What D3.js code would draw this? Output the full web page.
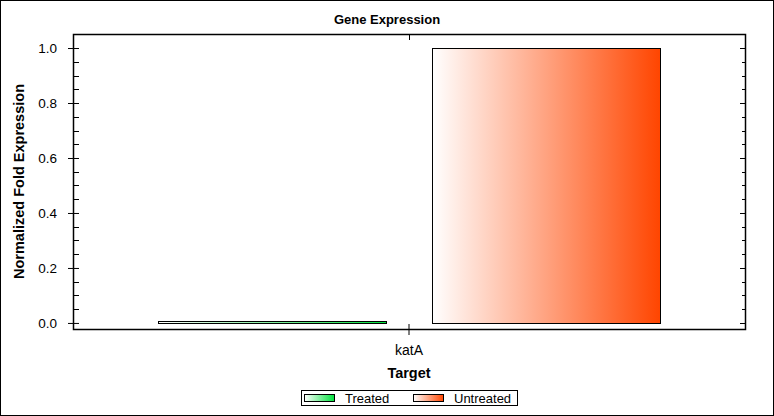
<!DOCTYPE html>
<html>
<head>
<meta charset="utf-8">
<script src="https://cdn.jsdelivr.net/npm/d3@7"></script>
<style>
  body { margin: 0; background: #fff; }
  text { font-family: "Liberation Sans", Arial, sans-serif; fill: #000; }
</style>
</head>
<body>
<div id="chart"></div>
<script>
// datos
var genes = ["katA"],
    series = ["Treated", "Untreated"],
    values = [[0.0075, 1.0]], // por gen: [Treated, Untreated]
    yTicks = [0.0, 0.2, 0.4, 0.6, 0.8, 1.0],
    colors = ["#00e03c", "#ff4500"];

var W = 774, H = 416,
    margin = {top: 34, right: 29, bottom: 87, left: 73},
    width = W - margin.left - margin.right,
    height = H - margin.top - margin.bottom;

var svg = d3.select("#chart").append("svg")
    .attr("width", W)
    .attr("height", H);

// borde exterior
svg.append("rect")
   .attr("x", 0.5).attr("y", 0.5)
   .attr("width", W - 1).attr("height", H - 1)
   .attr("fill", "#fff").attr("stroke", "#000");

// gradientes
var defs = svg.append("defs");
series.forEach(function (s, i) {
    var g = defs.append("linearGradient").attr("id", "grad" + i)
        .attr("x1", "0%").attr("x2", "100%").attr("y1", "0%").attr("y2", "0%");
    g.append("stop").attr("offset", "0%").attr("stop-color", "#fff");
    g.append("stop").attr("offset", "100%").attr("stop-color", colors[i]);
});

var g = svg.append("g")
    .attr("transform", "translate(" + margin.left + "," + margin.top + ")");

var x0 = d3.scaleBand().domain(genes).range([0, width])
    .paddingInner(0).paddingOuter(0.1693);
var x1 = d3.scaleBand().domain(series).range([0, x0.bandwidth()])
    .paddingInner(0.168).paddingOuter(0);
var y = d3.scaleLinear().domain([-0.022, 1.051]).range([height, 0]);

// barras
genes.forEach(function (gene, gi) {
    g.selectAll(".bar" + gi)
     .data(values[gi])
     .enter().append("rect")
     .attr("x", (d, i) => Math.round(x0(gene) + x1(series[i])) + 0.5)
     .attr("y", d => Math.round(y(d)) + 0.5)
     .attr("width", Math.round(x1.bandwidth()))
     .attr("height", d => Math.round(y(0)) - Math.round(y(d)))
     .attr("fill", (d, i) => "url(#grad" + i + ")")
     .attr("stroke", "#000")
     .attr("stroke-width", 1);
});

// ejes
var minor = d3.range(0, 1.001, 0.05).filter(v => yTicks.every(t => Math.abs(t - v) > 1e-6));

var left = g.append("g").attr("class", "axis-left");
left.call(d3.axisLeft(y).tickValues(yTicks).tickFormat(d3.format(".1f")).tickSize(0).tickPadding(16));
left.selectAll(".tick text").style("font-size", "13.5px");
left.selectAll(".tick").append("line").attr("x1", -5).attr("x2", 6).attr("stroke", "#000");
left.selectAll(".minor").data(minor).enter().append("line")
    .attr("x1", 0).attr("x2", 6)
    .attr("y1", d => Math.round(y(d)) + 0.5).attr("y2", d => Math.round(y(d)) + 0.5)
    .attr("stroke", "#000");

var right = g.append("g").attr("transform", "translate(" + width + ",0)");
right.selectAll(".major").data(yTicks).enter().append("line")
    .attr("x1", -5).attr("x2", 0)
    .attr("y1", d => Math.round(y(d)) + 0.5).attr("y2", d => Math.round(y(d)) + 0.5)
    .attr("stroke", "#000");
right.selectAll(".minor").data(minor).enter().append("line")
    .attr("x1", -3).attr("x2", 0)
    .attr("y1", d => Math.round(y(d)) + 0.5).attr("y2", d => Math.round(y(d)) + 0.5)
    .attr("stroke", "#000");

var bottom = g.append("g").attr("transform", "translate(0," + height + ")");
bottom.call(d3.axisBottom(x0).tickSize(0).tickPadding(16));
bottom.selectAll(".tick text").style("font-size", "14px");
bottom.selectAll(".tick").append("line").attr("y1", -5).attr("y2", 6).attr("stroke", "#000");

g.selectAll(".topTick").data(genes).enter().append("line")
    .attr("x1", d => Math.round(x0(d) + x0.bandwidth() / 2) + 0.5)
    .attr("x2", d => Math.round(x0(d) + x0.bandwidth() / 2) + 0.5)
    .attr("y1", 0).attr("y2", 6).attr("stroke", "#000");

g.selectAll(".domain").remove();

// marco del area
g.append("rect")
 .attr("x", 0.5).attr("y", 0.5)
 .attr("width", width).attr("height", height)
 .attr("fill", "none").attr("stroke", "#000").attr("stroke-width", 1.5);

// titulos
svg.append("text").attr("x", 387).attr("y", 24)
   .attr("text-anchor", "middle").style("font-size", "13px").style("font-weight", "bold")
   .text("Gene Expression");

svg.append("text").attr("x", margin.left + x0("katA") + x0.bandwidth() / 2).attr("y", 378)
   .attr("text-anchor", "middle").style("font-size", "14.5px").style("font-weight", "bold")
   .text("Target");

svg.append("text")
   .attr("transform", "translate(24," + (margin.top + height / 2) + ") rotate(-90)")
   .attr("text-anchor", "middle").style("font-size", "14.5px").style("font-weight", "bold")
   .text("Normalized Fold Expression");

// leyenda
var legend = svg.append("g").attr("transform", "translate(301,390)");
legend.append("rect").attr("x", 0.5).attr("y", 0.5).attr("width", 216).attr("height", 15)
      .attr("fill", "#fff").attr("stroke", "#000");
var lx = [3, 112];
series.forEach(function (s, i) {
    legend.append("rect").attr("x", lx[i] + 0.5).attr("y", 4.5).attr("width", 30).attr("height", 7)
          .attr("fill", "url(#grad" + i + ")").attr("stroke", "#000");
    legend.append("text").attr("x", lx[i] + 41).attr("y", 13)
          .style("font-size", "13px").text(s);
});
</script>
</body>
</html>
